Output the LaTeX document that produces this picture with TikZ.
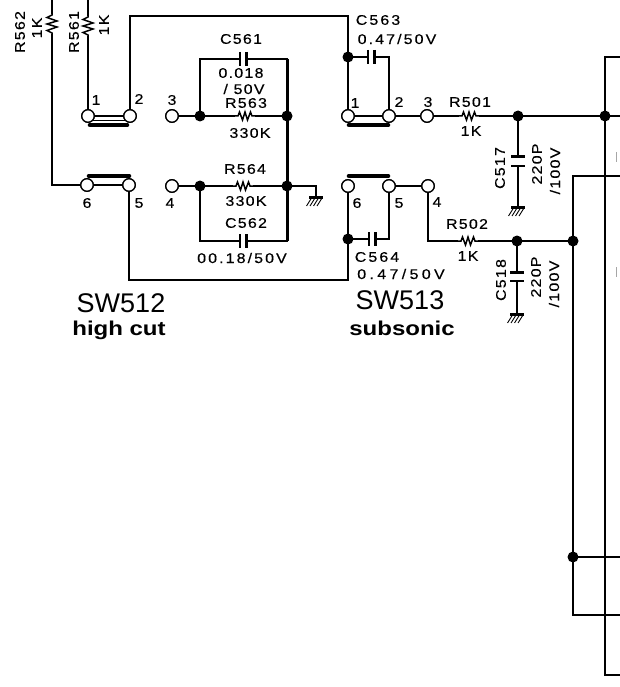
\documentclass[tikz,border=0pt]{standalone}
\usepackage{fontspec}
\setmainfont{Liberation Sans}
\newfontfamily\schfont[LetterSpace=9,FakeStretch=1.14,FakeBold=0.4]{Liberation Sans}
\newfontfamily\schwide[LetterSpace=24,FakeStretch=1.14,FakeBold=0.4]{Liberation Sans}
\newfontfamily\schmid[LetterSpace=15,FakeStretch=1.14,FakeBold=0.4]{Liberation Sans}
\newfontfamily\subfont[FakeStretch=1.2]{Liberation Sans}
\tikzset{
  wire/.style={line width=1.5pt,black,line join=miter,line cap=rect},
  heavy wire/.style={line width=3pt,black},
  bar/.style={line width=4.6pt,black,line cap=round},
  term/.style={circle,draw=black,line width=1.3pt,fill=white,minimum size=12.5pt,inner sep=0pt},
  junc/.style={circle,fill=black,minimum size=11pt,inner sep=0pt},
  lab/.style={font=\fontsize{14}{15}\schfont,inner sep=0pt},
  labm/.style={font=\fontsize{14}{15}\schmid,inner sep=0pt},
  labw/.style={font=\fontsize{14}{15}\schwide,inner sep=0pt},
  num/.style={font=\fontsize{14}{15}\schfont,inner sep=0pt},
  big/.style={font=\fontsize{27}{28}\selectfont,inner sep=0pt},
  sub/.style={font=\fontsize{20}{21}\subfont\bfseries,inner sep=0pt},
  resh/.pic={\fill[white] (-10,-3) rectangle (10,3);
    \draw[wire,line cap=butt] (-10,0)--(-7,0)--(-5.5,-4)--(-2.5,4)--(0,-4)--(2.5,4)--(5.5,-4)--(7,0)--(10,0);},
  resv/.pic={\fill[white] (-3,-10) rectangle (3,10);
    \draw[wire,line cap=butt] (0,-12)--(0,-9)--(-5,-6.5)--(5,-3)--(-5,0)--(5,3)--(-5,6.5)--(0,9)--(0,12);},
  caph/.pic={\fill[white] (-3,-6) rectangle (3,6);
    \draw[line width=2pt] (-3,-7)--(-3,7); \draw[line width=3pt] (3,-7)--(3,7);},
  capv/.pic={\fill[white] (-6,-4.5) rectangle (6,4.5);
    \draw[line width=3pt] (-7,-4.5)--(7,-4.5); \draw[line width=2.6pt] (-7,4.5)--(7,4.5);},
  gnd/.pic={\draw[line width=3pt] (-7,0)--(7,0);
    \foreach \k in {-4.5,-1,2.5,6}{\draw[line width=.9pt] (\k,1)--(\k-5,9);}},
}
\begin{document}
\begin{tikzpicture}[x=1pt,y=-1pt]
\useasboundingbox (0,0) rectangle (619,687);
% free ends
\coordinate (t562) at (52,0);
\coordinate (t561) at (88,0);
\coordinate (cTL) at (130,16);
\coordinate (cTR) at (348,16);
\coordinate (cBL) at (129,280);
\coordinate (cBR) at (348,280);
\coordinate (busT) at (605,57);
\coordinate (busTe) at (619,57);
\coordinate (busB) at (605,675);
\coordinate (busBe) at (619,675);
\coordinate (e116) at (619,116);
\coordinate (b2T) at (573,176);
\coordinate (b2Te) at (619,176);
\coordinate (e557) at (619,557);
\coordinate (b2B) at (573,615);
\coordinate (e615) at (619,615);
\coordinate (kA) at (52,185);
\coordinate (c561l) at (200,59);
\coordinate (c561r) at (287,59);
\coordinate (c562l) at (200,241);
\coordinate (c562r) at (287,241);
\coordinate (c563r) at (389,57);
\coordinate (c564r) at (389,239);
\coordinate (k502) at (428,241);
\coordinate (g0) at (316,186);
\coordinate (g1) at (316,196);
\coordinate (g517) at (518,206);
\coordinate (g518) at (517,313);
% terminals and junctions
\node[term] (a1) at (88,116) {};
\node[term] (a2) at (130,116) {};
\node[term] (a3) at (172,116) {};
\node[term] (a6) at (87,185) {};
\node[term] (a5) at (129,185) {};
\node[term] (a4) at (172,186) {};
\node[term] (b1) at (348,116) {};
\node[term] (b2) at (389,116) {};
\node[term] (b3) at (427,116) {};
\node[term] (b6) at (348,186) {};
\node[term] (b5) at (389,186) {};
\node[term] (b4) at (428,186) {};
\node[junc] (j1) at (200,116) {};
\node[junc] (j2) at (287,116) {};
\node[junc] (j3) at (200,186) {};
\node[junc] (j4) at (287,186) {};
\node[junc] (j5) at (348,57) {};
\node[junc] (j6) at (348,239) {};
\node[junc] (j7) at (518,116) {};
\node[junc] (j8) at (605,116) {};
\node[junc] (j9) at (517,241) {};
\node[junc] (j10) at (573,241) {};
\node[junc] (j11) at (573,557) {};
% wires
\draw[wire] (t562) -- (kA) -- (a6);
\draw[wire] (t561) -- (a1);
\draw[wire] (a2) -- (cTL) -- (cTR) -- (j5) -- (b1);
\draw[wire] (j5) -- (c563r) -- (b2);
\draw[wire] (a1) -- (a2);
\draw[line width=.9pt] (88,120.5) -- (130,120.5);
\draw[wire] (a6) -- (a5);
\draw[wire] (a3) -- (j1) -- (j2);
\draw[wire] (j1) -- (c561l) -- (c561r);
\draw[heavy wire] (c561r) -- (c562r);
\draw[wire] (a4) -- (j3) -- (j4) -- (g0) -- (g1);
\draw[wire] (j3) -- (c562l) -- (c562r);
\draw[wire] (b1) -- (b2) -- (b3) -- (j7) -- (j8) -- (e116);
\draw[wire] (b6) -- (j6) -- (cBR) -- (cBL) -- (a5);
\draw[wire] (j6) -- (c564r) -- (b5);
\draw[wire] (b5) -- (b4) -- (k502) -- (j9) -- (j10);
\draw[wire] (j7) -- (g517);
\draw[wire] (j9) -- (g518);
\draw[wire] (busTe) -- (busT) -- (busB) -- (busBe);
\draw[wire] (b2Te) -- (b2T) -- (b2B) -- (e615);
\draw[wire] (j11) -- (e557);
% switch bars
\draw[bar] (90,125) -- (127,125);
\draw[bar] (89,176) -- (129,176);
\draw[bar] (349,125) -- (388,125);
\draw[bar] (349,176) -- (388,176);
% components
\pic at (52,24) {resv};
\pic at (88,26) {resv};
\pic at (245,116) {resh};
\pic at (243,186) {resh};
\pic at (469,116) {resh};
\pic at (468,241) {resh};
\pic at (243,59) {caph};
\pic at (243,241) {caph};
\pic at (371,57) {caph};
\pic at (372,239) {caph};
\pic at (518,161.5) {capv};
\pic at (517,276.5) {capv};
\pic at (316,197) {gnd};
\pic at (518,207) {gnd};
\pic at (517,314) {gnd};
% terminals above the lines
\foreach \n in {a1,a2,a3,a4,a5,a6,b1,b2,b3,b4,b5,b6}{\node[term] at (\n) {};}
% gray edge marks
\draw[gray!70,line width=1pt] (616,152)--(616,162) (616,267)--(616,277);
% labels
\node[lab,rotate=90] (lR562) at (20,32) {R562};
\node[lab,rotate=90] (l1Ka) at (37,28) {1K};
\node[lab,rotate=90] (lR561) at (74,32) {R561};
\node[lab,rotate=90] (l1Kb) at (104,25) {1K};
\node[lab] (lC561) at (241,39) {C561};
\node[lab] (l018) at (241,73) {0.018};
\node[lab] (l50) at (244,89) {/ 50V};
\node[lab] (lR563) at (246,103) {R563};
\node[lab] (l330a) at (250,133) {330K};
\node[lab] (lR564) at (245,169) {R564};
\node[lab] (l330b) at (246,201) {330K};
\node[lab] (lC562) at (246,223) {C562};
\node[labm] (l0018) at (242,258) {00.18/50V};
\node[num] at (96,100) {1};
\node[num] at (139,99) {2};
\node[num] at (172,100) {3};
\node[num] at (87,203) {6};
\node[num] at (139,203) {5};
\node[num] at (170,203) {4};
\node[labm] (lC563) at (378,20) {C563};
\node[labm] (l047a) at (397,39) {0.47/50V};
\node[num] at (355,103) {1};
\node[num] at (399,102) {2};
\node[num] at (428,102) {3};
\node[lab] (lR501) at (470,102) {R501};
\node[lab] (l1Kc) at (471,131) {1K};
\node[lab,rotate=90] (lC517) at (500,168) {C517};
\node[lab,rotate=90] (l220a) at (537,164) {220P};
\node[lab,rotate=90] (l100a) at (555,171) {/100V};
\node[num] at (357,203) {6};
\node[num] at (399,203) {5};
\node[num] at (437,202) {4};
\node[lab] (lR502) at (467,224) {R502};
\node[lab] (l1Kd) at (468,256) {1K};
\node[labm] (lC564) at (377,257) {C564};
\node[labw] (l047b) at (401,274) {0.47/50V};
\node[lab,rotate=90] (lC518) at (501,280) {C518};
\node[lab,rotate=90] (l220b) at (536,277) {220P};
\node[lab,rotate=90] (l100b) at (554,284) {/100V};
\node[big] (lSW512) at (121,303) {SW512};
\node[sub] (lhc) at (119,330) {high cut};
\node[big] (lSW513) at (400,300) {SW513};
\node[sub] (lss) at (402,328) {subsonic};
\end{tikzpicture}
\end{document}
